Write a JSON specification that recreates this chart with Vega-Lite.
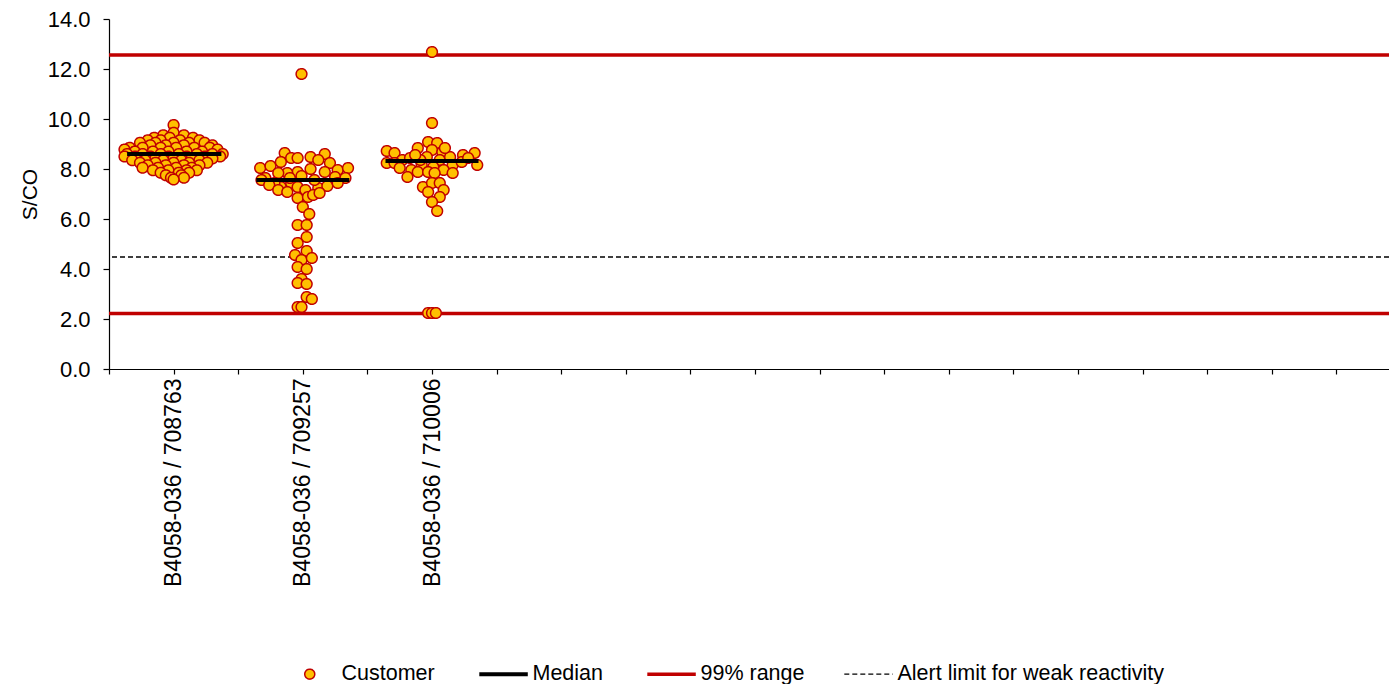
{
 "$schema": "https://vega.github.io/schema/vega-lite/v6.json",
 "width": 1280,
 "height": 350,
 "autosize": {"type": "none"},
 "padding": {"left": 109, "top": 19, "right": 0, "bottom": 315},
 "background": "white",
 "config": {
  "view": {"stroke": null},
  "axis": {"grid": false, "labelFont": "Liberation Sans", "titleFont": "Liberation Sans", "labelFontSize": 22, "titleFontSize": 21, "titleFontWeight": "normal", "labelColor": "#000", "titleColor": "#000", "domainColor": "#000", "tickColor": "#000", "domainWidth": 1.2, "tickWidth": 1.2, "labelLimit": 400},
  "legend": {"labelFont": "Liberation Sans", "labelFontSize": 21.5, "labelColor": "#000", "labelLimit": 500}
 },
 "datasets": {
  "customer": [
   {"series":"Customer","lot":"B4058-036 / 708763","pos":1.00,"value":9.76},
   {"series":"Customer","lot":"B4058-036 / 708763","pos":1.00,"value":9.45},
   {"series":"Customer","lot":"B4058-036 / 708763","pos":0.92,"value":9.35},
   {"series":"Customer","lot":"B4058-036 / 708763","pos":1.08,"value":9.35},
   {"series":"Customer","lot":"B4058-036 / 708763","pos":0.85,"value":9.25},
   {"series":"Customer","lot":"B4058-036 / 708763","pos":0.97,"value":9.25},
   {"series":"Customer","lot":"B4058-036 / 708763","pos":1.15,"value":9.25},
   {"series":"Customer","lot":"B4058-036 / 708763","pos":0.80,"value":9.15},
   {"series":"Customer","lot":"B4058-036 / 708763","pos":0.90,"value":9.15},
   {"series":"Customer","lot":"B4058-036 / 708763","pos":1.05,"value":9.15},
   {"series":"Customer","lot":"B4058-036 / 708763","pos":1.20,"value":9.15},
   {"series":"Customer","lot":"B4058-036 / 708763","pos":0.74,"value":9.05},
   {"series":"Customer","lot":"B4058-036 / 708763","pos":0.86,"value":9.05},
   {"series":"Customer","lot":"B4058-036 / 708763","pos":1.00,"value":9.05},
   {"series":"Customer","lot":"B4058-036 / 708763","pos":1.12,"value":9.05},
   {"series":"Customer","lot":"B4058-036 / 708763","pos":1.24,"value":9.05},
   {"series":"Customer","lot":"B4058-036 / 708763","pos":0.82,"value":8.95},
   {"series":"Customer","lot":"B4058-036 / 708763","pos":0.94,"value":8.95},
   {"series":"Customer","lot":"B4058-036 / 708763","pos":1.08,"value":8.95},
   {"series":"Customer","lot":"B4058-036 / 708763","pos":1.30,"value":8.95},
   {"series":"Customer","lot":"B4058-036 / 708763","pos":0.66,"value":8.85},
   {"series":"Customer","lot":"B4058-036 / 708763","pos":0.76,"value":8.85},
   {"series":"Customer","lot":"B4058-036 / 708763","pos":0.90,"value":8.85},
   {"series":"Customer","lot":"B4058-036 / 708763","pos":1.02,"value":8.85},
   {"series":"Customer","lot":"B4058-036 / 708763","pos":1.16,"value":8.85},
   {"series":"Customer","lot":"B4058-036 / 708763","pos":1.28,"value":8.85},
   {"series":"Customer","lot":"B4058-036 / 708763","pos":0.62,"value":8.78},
   {"series":"Customer","lot":"B4058-036 / 708763","pos":1.34,"value":8.78},
   {"series":"Customer","lot":"B4058-036 / 708763","pos":0.70,"value":8.70},
   {"series":"Customer","lot":"B4058-036 / 708763","pos":0.84,"value":8.70},
   {"series":"Customer","lot":"B4058-036 / 708763","pos":0.96,"value":8.70},
   {"series":"Customer","lot":"B4058-036 / 708763","pos":1.10,"value":8.70},
   {"series":"Customer","lot":"B4058-036 / 708763","pos":1.22,"value":8.70},
   {"series":"Customer","lot":"B4058-036 / 708763","pos":0.64,"value":8.60},
   {"series":"Customer","lot":"B4058-036 / 708763","pos":0.76,"value":8.60},
   {"series":"Customer","lot":"B4058-036 / 708763","pos":0.90,"value":8.60},
   {"series":"Customer","lot":"B4058-036 / 708763","pos":1.04,"value":8.60},
   {"series":"Customer","lot":"B4058-036 / 708763","pos":1.18,"value":8.60},
   {"series":"Customer","lot":"B4058-036 / 708763","pos":1.30,"value":8.60},
   {"series":"Customer","lot":"B4058-036 / 708763","pos":1.38,"value":8.60},
   {"series":"Customer","lot":"B4058-036 / 708763","pos":0.62,"value":8.50},
   {"series":"Customer","lot":"B4058-036 / 708763","pos":0.70,"value":8.50},
   {"series":"Customer","lot":"B4058-036 / 708763","pos":0.82,"value":8.50},
   {"series":"Customer","lot":"B4058-036 / 708763","pos":0.96,"value":8.50},
   {"series":"Customer","lot":"B4058-036 / 708763","pos":1.10,"value":8.50},
   {"series":"Customer","lot":"B4058-036 / 708763","pos":1.24,"value":8.50},
   {"series":"Customer","lot":"B4058-036 / 708763","pos":1.36,"value":8.50},
   {"series":"Customer","lot":"B4058-036 / 708763","pos":0.86,"value":8.42},
   {"series":"Customer","lot":"B4058-036 / 708763","pos":1.00,"value":8.42},
   {"series":"Customer","lot":"B4058-036 / 708763","pos":1.14,"value":8.42},
   {"series":"Customer","lot":"B4058-036 / 708763","pos":1.30,"value":8.42},
   {"series":"Customer","lot":"B4058-036 / 708763","pos":0.68,"value":8.35},
   {"series":"Customer","lot":"B4058-036 / 708763","pos":0.78,"value":8.35},
   {"series":"Customer","lot":"B4058-036 / 708763","pos":0.92,"value":8.35},
   {"series":"Customer","lot":"B4058-036 / 708763","pos":1.06,"value":8.35},
   {"series":"Customer","lot":"B4058-036 / 708763","pos":1.20,"value":8.35},
   {"series":"Customer","lot":"B4058-036 / 708763","pos":0.74,"value":8.25},
   {"series":"Customer","lot":"B4058-036 / 708763","pos":0.86,"value":8.25},
   {"series":"Customer","lot":"B4058-036 / 708763","pos":1.00,"value":8.25},
   {"series":"Customer","lot":"B4058-036 / 708763","pos":1.12,"value":8.25},
   {"series":"Customer","lot":"B4058-036 / 708763","pos":1.26,"value":8.25},
   {"series":"Customer","lot":"B4058-036 / 708763","pos":0.80,"value":8.15},
   {"series":"Customer","lot":"B4058-036 / 708763","pos":0.94,"value":8.15},
   {"series":"Customer","lot":"B4058-036 / 708763","pos":1.08,"value":8.15},
   {"series":"Customer","lot":"B4058-036 / 708763","pos":1.20,"value":8.15},
   {"series":"Customer","lot":"B4058-036 / 708763","pos":0.76,"value":8.05},
   {"series":"Customer","lot":"B4058-036 / 708763","pos":0.88,"value":8.05},
   {"series":"Customer","lot":"B4058-036 / 708763","pos":1.02,"value":8.05},
   {"series":"Customer","lot":"B4058-036 / 708763","pos":1.14,"value":8.05},
   {"series":"Customer","lot":"B4058-036 / 708763","pos":0.84,"value":7.95},
   {"series":"Customer","lot":"B4058-036 / 708763","pos":0.96,"value":7.95},
   {"series":"Customer","lot":"B4058-036 / 708763","pos":1.10,"value":7.95},
   {"series":"Customer","lot":"B4058-036 / 708763","pos":1.18,"value":7.95},
   {"series":"Customer","lot":"B4058-036 / 708763","pos":0.90,"value":7.85},
   {"series":"Customer","lot":"B4058-036 / 708763","pos":1.04,"value":7.85},
   {"series":"Customer","lot":"B4058-036 / 708763","pos":1.12,"value":7.85},
   {"series":"Customer","lot":"B4058-036 / 708763","pos":0.94,"value":7.75},
   {"series":"Customer","lot":"B4058-036 / 708763","pos":1.06,"value":7.75},
   {"series":"Customer","lot":"B4058-036 / 708763","pos":0.98,"value":7.65},
   {"series":"Customer","lot":"B4058-036 / 708763","pos":1.08,"value":7.65},
   {"series":"Customer","lot":"B4058-036 / 708763","pos":1.00,"value":7.58},
   {"series":"Customer","lot":"B4058-036 / 709257","pos":1.99,"value":11.8},
   {"series":"Customer","lot":"B4058-036 / 709257","pos":1.86,"value":8.64},
   {"series":"Customer","lot":"B4058-036 / 709257","pos":1.91,"value":8.44},
   {"series":"Customer","lot":"B4058-036 / 709257","pos":1.96,"value":8.44},
   {"series":"Customer","lot":"B4058-036 / 709257","pos":2.06,"value":8.48},
   {"series":"Customer","lot":"B4058-036 / 709257","pos":2.17,"value":8.60},
   {"series":"Customer","lot":"B4058-036 / 709257","pos":2.12,"value":8.36},
   {"series":"Customer","lot":"B4058-036 / 709257","pos":2.21,"value":8.24},
   {"series":"Customer","lot":"B4058-036 / 709257","pos":1.67,"value":8.04},
   {"series":"Customer","lot":"B4058-036 / 709257","pos":1.75,"value":8.12},
   {"series":"Customer","lot":"B4058-036 / 709257","pos":1.83,"value":8.28},
   {"series":"Customer","lot":"B4058-036 / 709257","pos":2.27,"value":7.96},
   {"series":"Customer","lot":"B4058-036 / 709257","pos":2.35,"value":8.04},
   {"series":"Customer","lot":"B4058-036 / 709257","pos":1.96,"value":7.88},
   {"series":"Customer","lot":"B4058-036 / 709257","pos":2.06,"value":8.00},
   {"series":"Customer","lot":"B4058-036 / 709257","pos":1.88,"value":7.84},
   {"series":"Customer","lot":"B4058-036 / 709257","pos":1.81,"value":7.84},
   {"series":"Customer","lot":"B4058-036 / 709257","pos":1.71,"value":7.64},
   {"series":"Customer","lot":"B4058-036 / 709257","pos":2.17,"value":7.88},
   {"series":"Customer","lot":"B4058-036 / 709257","pos":2.25,"value":7.68},
   {"series":"Customer","lot":"B4058-036 / 709257","pos":2.33,"value":7.64},
   {"series":"Customer","lot":"B4058-036 / 709257","pos":1.83,"value":7.28},
   {"series":"Customer","lot":"B4058-036 / 709257","pos":1.91,"value":7.44},
   {"series":"Customer","lot":"B4058-036 / 709257","pos":1.96,"value":7.28},
   {"series":"Customer","lot":"B4058-036 / 709257","pos":2.02,"value":7.16},
   {"series":"Customer","lot":"B4058-036 / 709257","pos":2.12,"value":7.24},
   {"series":"Customer","lot":"B4058-036 / 709257","pos":2.19,"value":7.32},
   {"series":"Customer","lot":"B4058-036 / 709257","pos":2.27,"value":7.44},
   {"series":"Customer","lot":"B4058-036 / 709257","pos":1.78,"value":7.44},
   {"series":"Customer","lot":"B4058-036 / 709257","pos":1.96,"value":6.84},
   {"series":"Customer","lot":"B4058-036 / 709257","pos":2.04,"value":6.88},
   {"series":"Customer","lot":"B4058-036 / 709257","pos":2.08,"value":6.96},
   {"series":"Customer","lot":"B4058-036 / 709257","pos":2.13,"value":7.04},
   {"series":"Customer","lot":"B4058-036 / 709257","pos":1.68,"value":7.56},
   {"series":"Customer","lot":"B4058-036 / 709257","pos":1.74,"value":7.36},
   {"series":"Customer","lot":"B4058-036 / 709257","pos":1.90,"value":7.64},
   {"series":"Customer","lot":"B4058-036 / 709257","pos":2.09,"value":7.56},
   {"series":"Customer","lot":"B4058-036 / 709257","pos":1.99,"value":7.72},
   {"series":"Customer","lot":"B4058-036 / 709257","pos":1.81,"value":7.16},
   {"series":"Customer","lot":"B4058-036 / 709257","pos":1.88,"value":7.08},
   {"series":"Customer","lot":"B4058-036 / 709257","pos":2.00,"value":6.48},
   {"series":"Customer","lot":"B4058-036 / 709257","pos":2.05,"value":6.20},
   {"series":"Customer","lot":"B4058-036 / 709257","pos":1.96,"value":5.76},
   {"series":"Customer","lot":"B4058-036 / 709257","pos":2.03,"value":5.76},
   {"series":"Customer","lot":"B4058-036 / 709257","pos":2.03,"value":5.28},
   {"series":"Customer","lot":"B4058-036 / 709257","pos":1.96,"value":5.04},
   {"series":"Customer","lot":"B4058-036 / 709257","pos":2.03,"value":4.72},
   {"series":"Customer","lot":"B4058-036 / 709257","pos":1.94,"value":4.56},
   {"series":"Customer","lot":"B4058-036 / 709257","pos":1.99,"value":4.36},
   {"series":"Customer","lot":"B4058-036 / 709257","pos":2.07,"value":4.44},
   {"series":"Customer","lot":"B4058-036 / 709257","pos":1.96,"value":4.08},
   {"series":"Customer","lot":"B4058-036 / 709257","pos":2.03,"value":4.00},
   {"series":"Customer","lot":"B4058-036 / 709257","pos":1.99,"value":3.60},
   {"series":"Customer","lot":"B4058-036 / 709257","pos":1.96,"value":3.44},
   {"series":"Customer","lot":"B4058-036 / 709257","pos":2.03,"value":3.40},
   {"series":"Customer","lot":"B4058-036 / 709257","pos":2.03,"value":2.88},
   {"series":"Customer","lot":"B4058-036 / 709257","pos":2.07,"value":2.80},
   {"series":"Customer","lot":"B4058-036 / 709257","pos":1.96,"value":2.48},
   {"series":"Customer","lot":"B4058-036 / 709257","pos":1.99,"value":2.48},
   {"series":"Customer","lot":"B4058-036 / 710006","pos":3.00,"value":12.68},
   {"series":"Customer","lot":"B4058-036 / 710006","pos":3.00,"value":9.84},
   {"series":"Customer","lot":"B4058-036 / 710006","pos":2.97,"value":2.24},
   {"series":"Customer","lot":"B4058-036 / 710006","pos":3.00,"value":2.24},
   {"series":"Customer","lot":"B4058-036 / 710006","pos":3.03,"value":2.24},
   {"series":"Customer","lot":"B4058-036 / 710006","pos":2.65,"value":8.72},
   {"series":"Customer","lot":"B4058-036 / 710006","pos":2.71,"value":8.64},
   {"series":"Customer","lot":"B4058-036 / 710006","pos":2.65,"value":8.24},
   {"series":"Customer","lot":"B4058-036 / 710006","pos":2.77,"value":8.36},
   {"series":"Customer","lot":"B4058-036 / 710006","pos":2.83,"value":8.44},
   {"series":"Customer","lot":"B4058-036 / 710006","pos":2.89,"value":8.84},
   {"series":"Customer","lot":"B4058-036 / 710006","pos":2.97,"value":9.08},
   {"series":"Customer","lot":"B4058-036 / 710006","pos":3.04,"value":9.04},
   {"series":"Customer","lot":"B4058-036 / 710006","pos":3.00,"value":8.76},
   {"series":"Customer","lot":"B4058-036 / 710006","pos":3.08,"value":8.68},
   {"series":"Customer","lot":"B4058-036 / 710006","pos":2.96,"value":8.48},
   {"series":"Customer","lot":"B4058-036 / 710006","pos":3.06,"value":8.36},
   {"series":"Customer","lot":"B4058-036 / 710006","pos":3.14,"value":8.48},
   {"series":"Customer","lot":"B4058-036 / 710006","pos":3.24,"value":8.56},
   {"series":"Customer","lot":"B4058-036 / 710006","pos":3.33,"value":8.64},
   {"series":"Customer","lot":"B4058-036 / 710006","pos":3.35,"value":8.16},
   {"series":"Customer","lot":"B4058-036 / 710006","pos":3.16,"value":8.16},
   {"series":"Customer","lot":"B4058-036 / 710006","pos":3.01,"value":8.08},
   {"series":"Customer","lot":"B4058-036 / 710006","pos":2.92,"value":8.16},
   {"series":"Customer","lot":"B4058-036 / 710006","pos":2.84,"value":7.96},
   {"series":"Customer","lot":"B4058-036 / 710006","pos":2.81,"value":7.68},
   {"series":"Customer","lot":"B4058-036 / 710006","pos":2.89,"value":7.88},
   {"series":"Customer","lot":"B4058-036 / 710006","pos":2.97,"value":7.88},
   {"series":"Customer","lot":"B4058-036 / 710006","pos":3.09,"value":7.96},
   {"series":"Customer","lot":"B4058-036 / 710006","pos":3.16,"value":7.84},
   {"series":"Customer","lot":"B4058-036 / 710006","pos":3.02,"value":7.84},
   {"series":"Customer","lot":"B4058-036 / 710006","pos":2.93,"value":7.28},
   {"series":"Customer","lot":"B4058-036 / 710006","pos":3.00,"value":7.44},
   {"series":"Customer","lot":"B4058-036 / 710006","pos":3.06,"value":7.44},
   {"series":"Customer","lot":"B4058-036 / 710006","pos":3.09,"value":7.16},
   {"series":"Customer","lot":"B4058-036 / 710006","pos":2.97,"value":7.08},
   {"series":"Customer","lot":"B4058-036 / 710006","pos":3.06,"value":6.88},
   {"series":"Customer","lot":"B4058-036 / 710006","pos":3.00,"value":6.68},
   {"series":"Customer","lot":"B4058-036 / 710006","pos":3.04,"value":6.32},
   {"series":"Customer","lot":"B4058-036 / 710006","pos":2.71,"value":8.24},
   {"series":"Customer","lot":"B4058-036 / 710006","pos":2.91,"value":8.36},
   {"series":"Customer","lot":"B4058-036 / 710006","pos":3.23,"value":8.28},
   {"series":"Customer","lot":"B4058-036 / 710006","pos":3.28,"value":8.44},
   {"series":"Customer","lot":"B4058-036 / 710006","pos":2.75,"value":8.04},
   {"series":"Customer","lot":"B4058-036 / 710006","pos":3.10,"value":8.84},
   {"series":"Customer","lot":"B4058-036 / 710006","pos":2.87,"value":8.56}
  ],
  "medians": [
   {"series":"Median","lot":"B4058-036 / 708763","pos":0.64,"pos2":1.37,"value":8.6},
   {"series":"Median","lot":"B4058-036 / 709257","pos":1.64,"pos2":2.36,"value":7.56},
   {"series":"Median","lot":"B4058-036 / 710006","pos":2.64,"pos2":3.36,"value":8.32}
  ],
  "ranges": [
   {"series":"99% range","value":12.56},
   {"series":"99% range","value":2.22}
  ],
  "alert": [
   {"series":"Alert limit for weak reactivity","value":4.48}
  ]
 },
 "encoding": {
  "y": {"field": "value", "type": "quantitative", "scale": {"domain": [0, 14], "nice": false, "zero": true},
        "axis": {"title": "S/CO", "values": [0,2,4,6,8,10,12,14], "format": ".1f", "tickSize": 6, "labelPadding": 13, "titlePadding": 7}},
  "stroke": {"field": "series", "type": "nominal", "scale": {"domain": ["Customer","Median","99% range","Alert limit for weak reactivity"], "range": ["#C00000","#000000","#C00000","#000000"]},
             "legend": {"orient": "none", "legendX": 190, "legendY": 644, "direction": "horizontal", "title": null, "columnPadding": 36, "labelOffset": 21, "labelFont": "Liberation Sans", "labelFontSize": 21.5, "labelLimit": 500}},
  "strokeWidth": {"field": "series", "type": "nominal", "scale": {"type": "ordinal", "domain": ["Customer","Median","99% range","Alert limit for weak reactivity"], "range": [1.5, 4, 3.5, 1.3]}},
  "strokeDash": {"field": "series", "type": "nominal", "scale": {"domain": ["Customer","Median","99% range","Alert limit for weak reactivity"], "range": [[1,0],[1,0],[1,0],[5,3]]}}
 },
 "layer": [
  {
   "data": {"name": "ranges"},
   "mark": {"type": "rule"}
  },
  {
   "data": {"name": "alert"},
   "mark": {"type": "rule"}
  },
  {
   "data": {"name": "customer"},
   "mark": {"type": "point", "opacity": 1, "size": 115},
   "encoding": {
    "x": {"field": "pos", "type": "quantitative", "scale": {"domain": [0.5, 10.407], "nice": false, "zero": false},
          "axis": {"title": null, "values": [0.5,1,1.5,2,2.5,3,3.5,4,4.5,5,5.5,6,6.5,7,7.5,8,8.5,9,9.5,10],
                   "labelExpr": "datum.value == 1 ? 'B4058-036 / 708763' : datum.value == 2 ? 'B4058-036 / 709257' : datum.value == 3 ? 'B4058-036 / 710006' : ''",
                   "labelAngle": -90, "labelOverlap": false, "labelBound": false, "labelFlush": false, "tickSize": 5, "labelPadding": 4, "labelFontSize": 23, "labelLimit": 400}},
    "fill": {"field": "series", "type": "nominal", "scale": {"domain": ["Customer","Median","99% range","Alert limit for weak reactivity"], "range": ["#FFC000","transparent","transparent","transparent"]}},
    "shape": {"field": "series", "type": "nominal", "scale": {"domain": ["Customer","Median","99% range","Alert limit for weak reactivity"], "range": ["circle","M-4.29,0H5.41","M-4.29,0H5.41","M-4.29,0H5.41"]}}
   }
  },
  {
   "data": {"name": "medians"},
   "mark": {"type": "rule"},
   "encoding": {
    "x": {"field": "pos", "type": "quantitative", "scale": {"domain": [0.5, 10.407], "nice": false, "zero": false},
          "axis": {"title": null, "values": [0.5,1,1.5,2,2.5,3,3.5,4,4.5,5,5.5,6,6.5,7,7.5,8,8.5,9,9.5,10],
                   "labelExpr": "datum.value == 1 ? 'B4058-036 / 708763' : datum.value == 2 ? 'B4058-036 / 709257' : datum.value == 3 ? 'B4058-036 / 710006' : ''",
                   "labelAngle": -90, "labelOverlap": false, "labelBound": false, "labelFlush": false, "tickSize": 5, "labelPadding": 4, "labelFontSize": 23, "labelLimit": 400}},
    "x2": {"field": "pos2"}
   }
  }
 ]
}
